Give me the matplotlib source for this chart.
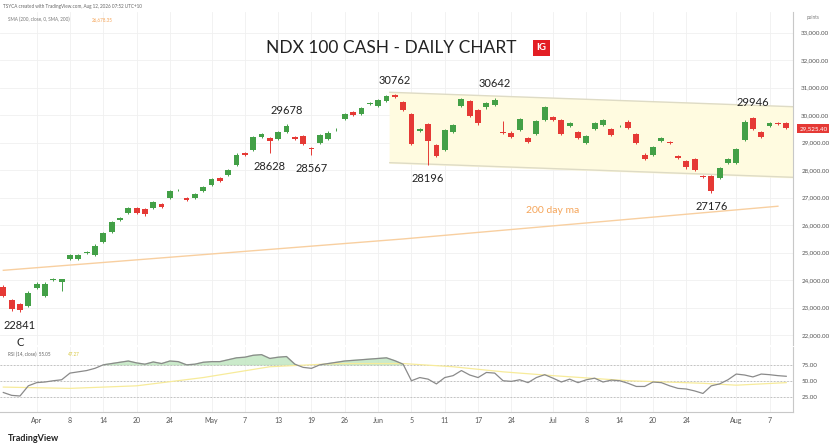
import matplotlib
matplotlib.use("Agg")
import matplotlib.pyplot as plt
import numpy as np
import pandas as pd

plt.rcParams['font.family'] = ['Lato', 'DejaVu Sans']

holidays = ["2026-04-03", "2026-05-25", "2026-06-19", "2026-07-03"]
dates = [d for d in pd.bdate_range("2026-03-26", "2026-08-11") if d.strftime("%Y-%m-%d") not in holidays]

# OHLC (open, close, high, low)
opens = [23770,23280,23120,23060,23710,23425,24000,23940,24770,24770,24990,24920,25380,25750,26180,26460,26610,26600,26640,26760,
         27000,27270,27000,27000,27250,27450,27710,27830,28180,28630,28740,29200,29160,29150,29400,29220,29240,28820,29000,29120,
         29480,29860,30100,30060,30420,30350,30530,30740,30470,30040,29430,29670,28900,28720,29400,30320,30500,30190,30280,30380,
         29390,29370,29450,29160,29330,29820,29940,29820,29610,29400,29000,29490,29650,29490,29600,29770,29330,28570,28570,29060,
         29020,28530,28320,28390,27800,27800,27710,28270,28270,29100,29890,29400,29610,29730,29700]
closes = [23425,22935,22900,23550,23880,23880,24030,24040,24920,24930,25020,25260,25730,26120,26270,26610,26460,26390,26850,26670,
          27250,27290,26920,27120,27400,27690,27620,27990,28570,28550,29200,29330,29060,29390,29610,29120,28970,28760,29280,29370,
          29490,30040,30020,30250,30430,30550,30690,30650,30190,28940,29490,29060,28510,29460,29650,30590,29980,29700,30440,30570,
          29340,29210,29860,29040,29800,30310,29840,29330,29730,29160,29240,29730,29830,29280,29610,29530,29000,28420,28850,29160,
          28980,28450,28100,28020,27750,27250,28080,28420,28780,29770,29490,29210,29730,29670,29525]
highs_extra = {32: 29200, 34: 29678, 47: 30762, 59: 30642, 60: 29780, 90: 29946, 7: 24060}
lows_extra = {2: 22841, 7: 23610, 32: 28628, 37: 28567, 51: 28196, 85: 27176}

rsi = [31.5,27,26,42,47,48,50,51.5,62,64,66,69.5,75,77,79,81,78,76,79.5,77,81,80,75,76,79,80,80,83,86,87,90,91,85,87,88,76,71,
       69.5,75,77,79,81,82,83,84,85,86,81.5,76,
       50,55,52.5,45,55,58,66,59,55,63,62,50,49,51.5,47,55,59.5,54,48,52.5,47,51.5,54,48,51,50,46,41,41,48,47,42,38,37,34,30,
       42,45,51.5,60.5,59,56,60.5,59.5,58,57]
rsi_ma_idx = [0, 8, 16, 24, 32, 40, 48, 54, 60, 66, 75, 84, 88, 94]
rsi_ma_val = [40, 38, 42, 55, 72, 77, 77, 72, 64, 58, 50, 46, 43, 47]

ma_idx = [0, 48, 93]
ma_val = [24360, 25500, 26690]
chan_idx = [46.4, 94.8]
chan_top = [30833, 30309]
chan_bot = [28273, 27742]

tick_dates = ["2026-04-01","2026-04-08","2026-04-14","2026-04-20","2026-04-24","2026-05-01","2026-05-07","2026-05-13",
              "2026-05-19","2026-05-26","2026-06-01","2026-06-05","2026-06-11","2026-06-17","2026-06-24","2026-07-01",
              "2026-07-08","2026-07-14","2026-07-20","2026-07-24","2026-08-03","2026-08-07"]
tick_labels = ["Apr","8","14","20","24","May","7","13","19","26","Jun","5","11","17","24","Jul","8","14","20","24","Aug","7"]
ds = [d.strftime("%Y-%m-%d") for d in dates]
tick_pos = [ds.index(t) for t in tick_dates]

annots = [(2, 22841, "22841\nC", "top"), (32, 28628, "28628", "top"), (34, 29678, "29678", "bottom"),
          (37, 28567, "28567", "top"), (47, 30762, "30762", "bottom"), (51, 28196, "28196", "top"),
          (59, 30642, "30642", "bottom"), (85, 27176, "27176", "top"), (90, 29946, "29946", "bottom")]

green, red = "#43a047", "#e53935"
fig = plt.figure(figsize=(8.32, 4.48), dpi=100)
ax = fig.add_axes([0, 0.2299, 0.953, 0.7433])
axr = fig.add_axes([0, 0.081, 0.953, 0.1444], sharex=ax)
xs = np.arange(len(opens))
for a in (ax, axr):
    a.set_xlim(-0.4, 94.8)
    for s in ["top", "left", "bottom"]:
        a.spines[s].set_visible(False)
    a.spines["right"].set_color("#c8c8c8")
    a.set_xticks(tick_pos)
    a.grid(True, color="#f0f0f0", lw=0.6)
    a.set_axisbelow(True)
    a.yaxis.tick_right()
    a.tick_params(axis="y", length=0, labelsize=4.5, labelcolor="#555555", pad=6)
ax.tick_params(axis="x", length=0, labelbottom=False)
axr.tick_params(axis="x", length=0, labelsize=5, labelcolor="#555555")
axr.set_xticklabels(tick_labels)
axr.spines["bottom"].set_visible(True)
axr.spines["bottom"].set_color("#c8c8c8")

ax.set_ylim(21644, 33752)
yt = list(range(22000, 34000, 1000))
ax.set_yticks(yt)
ax.set_yticklabels([f"{v:,.2f}" for v in yt])

ax.fill_between(chan_idx, chan_bot, chan_top, color="#fffbe0", zorder=1)
ax.plot(chan_idx, chan_top, color="#dedbc5", lw=1, zorder=1)
ax.plot(chan_idx, chan_bot, color="#dedbc5", lw=1, zorder=1)
ax.plot(ma_idx, ma_val, color="#f8cfa0", lw=1, zorder=2)

for i in xs:
    o, c = opens[i], closes[i]
    col = green if c >= o else red
    h = max(highs_extra.get(i, max(o, c) + 40), max(o, c))
    l = min(lows_extra.get(i, min(o, c) - 40), min(o, c))
    ax.vlines(i, l, h, color=col, lw=0.7, zorder=3)
    ax.bar(i, max(abs(c - o), 25), bottom=min(o, c), width=0.7, color=col, zorder=4)

for i, v, t, va in annots:
    off = -6 if va == "top" else 6
    ax.annotate(t, (i, v), xytext=(0, off), textcoords="offset points", ha="center", va=va,
                fontsize=8, color="#222222", linespacing=1.6)
ax.text(66, 26550, "200 day ma", color="#f5a55a", fontsize=7.5, ha="center", va="center")

fig.text(0.47, 0.893, "NDX 100 CASH - DAILY CHART", ha="center", va="center", fontsize=12.5, color="#222222")
fig.text(0.651, 0.893, "IG", ha="center", va="center", fontsize=7, color="white", weight="bold",
         bbox=dict(boxstyle="square,pad=0.35", fc="#e31e24", ec="none"))
fig.text(0.004, 0.99, "TSYCA created with TradingView.com, Aug 12, 2026 07:52 UTC+10", fontsize=3.3, color="#666666", va="top")
fig.text(0.01, 0.962, "SMA (200, close, 0, SMA, 200)", fontsize=3.3, color="#777777", va="top")
fig.text(0.11, 0.962, "26,678.35", fontsize=3.3, color="#f5a55a", va="top")
ax.text(1.008, 29525, "29,525.40", transform=ax.get_yaxis_transform(), fontsize=4.5, color="white",
        va="center", ha="left", bbox=dict(boxstyle="square,pad=0.3", fc="#e53935", ec="none"), zorder=10)
fig.text(0.97, 0.957, "points", fontsize=3.3, color="#777777")

axr.set_ylim(1.3, 103)
axr.set_yticks([25, 50, 75])
axr.set_yticklabels(["25.00", "50.00", "75.00"])
for lv in (25, 50, 75):
    axr.axhline(lv, color="#bbbbbb", lw=0.6, ls=(0, (2, 2)))
axr.plot(rsi_ma_idx, rsi_ma_val, color="#f7eb9a", lw=0.9)
r = np.array(rsi, dtype=float)
axr.fill_between(xs, 75, r, where=r > 75, interpolate=True, color="#bfe5bf", alpha=0.8)
axr.plot(xs, r, color="#8a8a8a", lw=0.9)
axr.text(0.01, 0.92, "RSI (14, close)  55.05", transform=axr.transAxes, fontsize=3.3, color="#666666", va="top")
axr.text(0.085, 0.92, "47.27", transform=axr.transAxes, fontsize=3.3, color="#d8c840", va="top")

fig.text(0.01, 0.022, "TradingView", fontsize=6.5, color="#222222", weight="bold", va="center")
fig.savefig("out.png", dpi=100, facecolor="white")
